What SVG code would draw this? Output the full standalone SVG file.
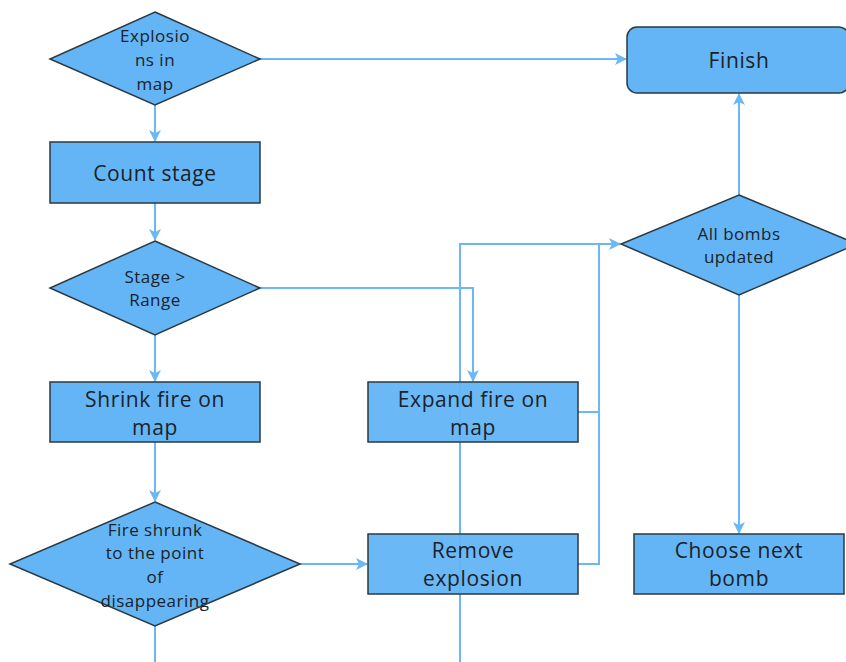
<svg xmlns="http://www.w3.org/2000/svg" width="846" height="662" viewBox="0 0 846 662">
<style>
.n{fill:#64b5f6;stroke:#2b3a42;stroke-width:1.5}
.r{fill-opacity:0.96}
.t{font-family:"Open Sans","DejaVu Sans",sans-serif;fill:#1a2228;text-anchor:middle}
.b{font-size:21px;letter-spacing:0.6px}
.s{font-size:17px;letter-spacing:0.5px}
.c{fill:none;stroke:#6cb8f6;stroke-width:2}
</style>
<defs>
<marker id="ah" viewBox="0 0 12 12" refX="11" refY="6" markerWidth="12" markerHeight="12" orient="auto" markerUnits="userSpaceOnUse"><path d="M0,0L12,6L0,12L3,6z" fill="#6cb8f6"/></marker>
</defs>
<rect width="846" height="662" fill="#ffffff"/>
<g id="connectors">
<path class="c" d="M260,59H626" marker-end="url(#ah)"/>
<path class="c" d="M155,105V141" marker-end="url(#ah)"/>
<path class="c" d="M155,203V240" marker-end="url(#ah)"/>
<path class="c" d="M260,288H473V381" marker-end="url(#ah)"/>
<path class="c" d="M155,335V381" marker-end="url(#ah)"/>
<path class="c" d="M155,442V501" marker-end="url(#ah)"/>
<path class="c" d="M300,564H367" marker-end="url(#ah)"/>
<path class="c" d="M155,626V662"/>
<path class="c" d="M460,662V244H620" marker-end="url(#ah)"/>
<path class="c" d="M578,412H599V244"/>
<path class="c" d="M578,564H599V412"/>
<path class="c" d="M739,295V533" marker-end="url(#ah)"/>
<path class="c" d="M739,195V94" marker-end="url(#ah)"/>
</g>
<g id="n1"><polygon class="n" points="155,12 260,59 155,105 50,59"/><text class="t s" x="155" y="42">Explosio</text><text class="t s" x="155" y="66">ns in</text><text class="t s" x="155" y="90">map</text></g>
<g id="n2"><rect class="n" x="50" y="142" width="210" height="61"/><text class="t b" x="155" y="181">Count stage</text></g>
<g id="n3"><polygon class="n" points="155,241 260,288 155,335 50,288"/><text class="t s" x="155" y="283">Stage &gt;</text><text class="t s" x="155" y="306">Range</text></g>
<g id="n4"><rect class="n" x="50" y="382" width="210" height="60"/><text class="t b" x="155" y="407">Shrink fire on</text><text class="t b" x="155" y="435">map</text></g>
<g id="n5"><polygon class="n" points="155,502 300,564 155,626 10,564"/><text class="t s" x="155" y="536">Fire shrunk</text><text class="t s" x="155" y="559">to the point</text><text class="t s" x="155" y="583">of</text><text class="t s" x="155" y="607">disappearing</text></g>
<g id="n6"><rect class="n r" x="368" y="382" width="210" height="60"/><text class="t b" x="473" y="407">Expand fire on</text><text class="t b" x="473" y="435">map</text></g>
<g id="n7"><rect class="n r" x="368" y="534" width="210" height="60"/><text class="t b" x="473" y="558">Remove</text><text class="t b" x="473" y="586">explosion</text></g>
<g id="n8"><rect class="n" x="634" y="534" width="210" height="60"/><text class="t b" x="739" y="558">Choose next</text><text class="t b" x="739" y="586">bomb</text></g>
<g id="n9"><rect class="n" x="627" y="27" width="222" height="66" rx="10"/><text class="t b" x="739" y="68">Finish</text></g>
<g id="n10"><polygon class="n" points="739,195 857,244 739,295 621,244"/><text class="t s" x="739" y="240">All bombs</text><text class="t s" x="739" y="263">updated</text></g>
</svg>
